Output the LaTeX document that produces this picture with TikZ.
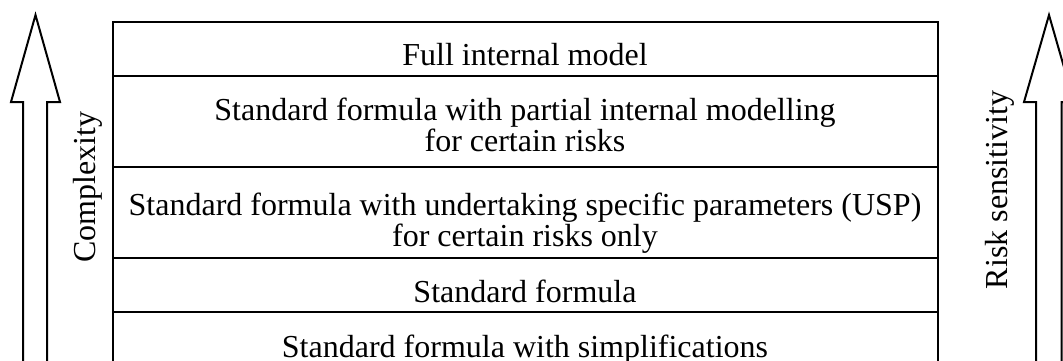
\documentclass[tikz,border=0pt]{standalone}
\usepackage{fontspec}
\setmainfont{Liberation Serif}
\begin{document}
\begin{tikzpicture}[x=1pt,y=-1pt,
  boxline/.style={line width=2.6pt},
  arrowline/.style={line width=2pt, line join=miter},
  rowtext/.style={font=\fontsize{32}{31}\selectfont, inner sep=0pt, anchor=base, align=center},
  sidetext/.style={font=\fontsize{32}{31}\selectfont, inner sep=0pt, rotate=90}]
\useasboundingbox (0,0) rectangle (1063,361);
\clip (0,0) rectangle (1063,361);
% box
\coordinate (tl) at (113,22);
\coordinate (tr) at (938,22);
\coordinate (bl) at (113,380);
\coordinate (br) at (938,380);
\draw[boxline] (bl) -- (tl) -- (tr) -- (br);
\foreach \y in {76,167,258,312} \draw[boxline] (113,\y) -- (938,\y);
% left arrow
\coordinate (la1) at (23,380);
\coordinate (la2) at (23,102);
\coordinate (la3) at (11,102);
\coordinate (ltip) at (35.5,15);
\coordinate (la5) at (60,102);
\coordinate (la6) at (47,102);
\coordinate (la7) at (47,380);
\draw[arrowline] (la1) -- (la2) -- (la3) -- (ltip) -- (la5) -- (la6) -- (la7);
% right arrow
\coordinate (ra1) at (1036,380);
\coordinate (ra2) at (1036,102);
\coordinate (ra3) at (1024,102);
\coordinate (rtip) at (1049,15);
\coordinate (ra5) at (1074,102);
\coordinate (ra6) at (1061.5,102);
\coordinate (ra7) at (1061.5,380);
\draw[arrowline] (ra1) -- (ra2) -- (ra3) -- (rtip) -- (ra5) -- (ra6) -- (ra7);
% texts
\node[rowtext] (r1) at (525,66) {Full internal model};
\node[rowtext] (r2) at (525,151) {Standard formula with partial internal modelling\\for certain risks};
\node[rowtext] (r3) at (525,246) {Standard formula with undertaking specific parameters (USP)\\for certain risks only};
\node[rowtext] (r4) at (525,302) {Standard formula};
\node[rowtext] (r5) at (525,357) {Standard formula with simplifications};
\node[sidetext] (cx) at (88,187) {Complexity};
\node[sidetext] (rs) at (1000,190) {Risk sensitivity};
\end{tikzpicture}
\end{document}
